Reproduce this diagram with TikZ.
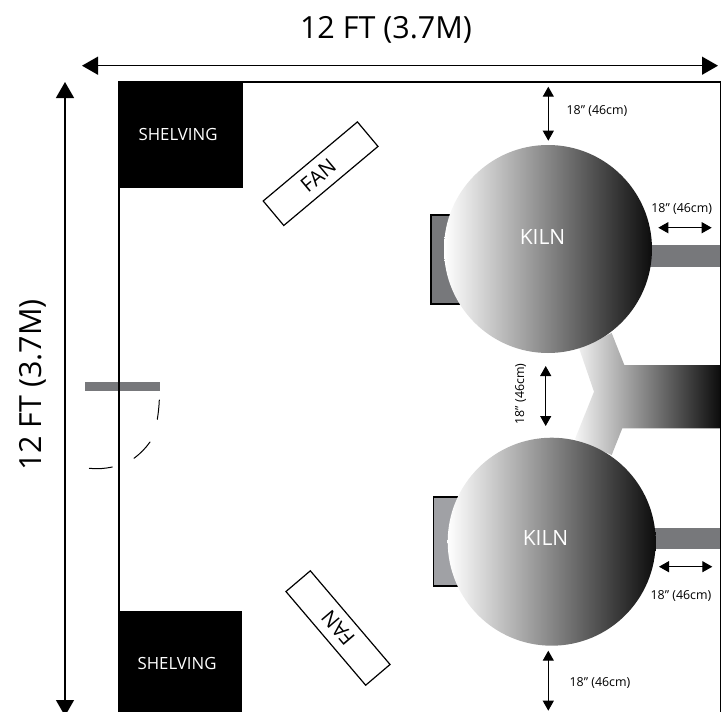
\documentclass[tikz,border=0pt]{standalone}
\usepackage{fontspec}
\setmainfont{Open Sans}
\usetikzlibrary{arrows.meta}
\definecolor{ductgray}{HTML}{77787B}
\definecolor{boxlight}{HTML}{A0A1A5}
\definecolor{kilnmid}{HTML}{8E8F92}
\tikzset{
  kilnbody/.style={circle,minimum size=208pt,inner sep=0pt,left color=white,middle color=kilnmid,right color=black!95},
  fanbox/.style={draw=black,line width=1.2pt,fill=white,minimum width=123pt,minimum height=32pt,inner sep=0pt,font=\fontsize{20.5}{24}\selectfont},
  bigdim/.style={line width=1.3pt,{Triangle[length=16pt,width=18pt]}-{Triangle[length=16pt,width=18pt]}},
  smalldim/.style={line width=1.1pt,{Triangle[length=10pt,width=11pt]}-{Triangle[length=10pt,width=11pt]}},
  dimtext/.style={font=\fontsize{12.4}{14}\selectfont,inner sep=0pt},
  bigtext/.style={font=\fontsize{30.5}{34}\selectfont,inner sep=0pt},
  shelfbox/.style={fill=black,inner sep=0pt,minimum width=124pt,text=white,font=\fontsize{16.8}{20}\selectfont},
  kilntext/.style={font=\fontsize{21}{24}\selectfont,inner sep=0pt,text=white},
  doorgap/.style={line width=1pt,line cap=round}
}
\begin{document}
\begin{tikzpicture}[x=1pt,y=-1pt]
\useasboundingbox (0,0) rectangle (726,712);
% draw duct
\shade[left color=black!4,middle color=kilnmid,right color=black!95]
  (611.7,333) -- (624.3,365) -- (720,365) -- (720,428.3) -- (622.3,428.3) -- (611.7,455)
  -- (575,439) -- (594,391.7) -- (579,348) -- cycle;
% draw pipes
\fill[ductgray] (640,245) rectangle (720,266.7);
\fill[ductgray] (640,528) rectangle (720,548.7);
% draw door boxes
\draw[line width=1.2pt,fill=ductgray] (431,215) rectangle (480,304);
\draw[line width=1.2pt,fill=boxlight] (433.5,497) rectangle (480,586);
% draw door
\fill[ductgray] (85,382) rectangle (160,390.7);
\draw[doorgap] (159.3,400) to[bend left=3] (157.3,419.3);
\draw[doorgap] (150,442) to[bend left=8] (134,458.3);
\draw[doorgap] (112.3,467) to[bend left=8] (89.3,468.3);
% draw walls
\draw[line width=1.4pt] (119,712) -- (119,82) -- (720.6,82) -- (720.6,712);
% draw shelving
\node (shelftop) [shelfbox,minimum height=105.5pt] at (181,134.8) {\hspace*{-6pt}SHELVING};
\node (shelfbottom) [shelfbox,minimum height=104pt] at (180,663) {\hspace*{-6pt}SHELVING};
% draw fans
\node (fantop) [fanbox,rotate=40] at (320.6,173.7) {\hspace*{-6pt}FAN};
\node (fanbottom) [fanbox,rotate=130.4] at (338,628) {FAN};
% draw kilns
\node (kilntop) [kilnbody] at (548,249) {};
\node (kilnbottom) [kilnbody] at (551.7,541.7) {};
\node (kilntoptext) [kilntext] at (542.5,237) {KILN};
\node (kilnbottomtext) [kilntext] at (545.5,538) {KILN};
% draw room size
\draw[bigdim] (82,65.7) -- (718,65.7);
\draw[bigdim] (65,82) -- (65,716);
\node (widthtext) [bigtext] at (386,30) {12 FT (3.7M)};
\node (heighttext) [bigtext,rotate=90] at (33,385) {12 FT (3.7M)};
% draw clearances
\draw[smalldim] (548.3,86.7) -- (548.3,140.7);
\node (cleartop) [dimtext] at (597,110.7) {18” (46cm)};
\draw[smalldim] (658.3,227.7) -- (711.7,227.7);
\node (clearright) [dimtext] at (681.7,209) {18” (46cm)};
\draw[smalldim] (545.7,366) -- (545.7,426);
\node (clearmid) [dimtext,rotate=90] at (520.7,394) {18” (46cm)};
\draw[smalldim] (659,566.7) -- (712.3,566.7);
\node (clearlow) [dimtext] at (681,595.7) {18” (46cm)};
\draw[smalldim] (548.3,650.7) -- (548.3,710.7);
\node (clearbottom) [dimtext] at (600,683) {18” (46cm)};
\end{tikzpicture}
\end{document}
